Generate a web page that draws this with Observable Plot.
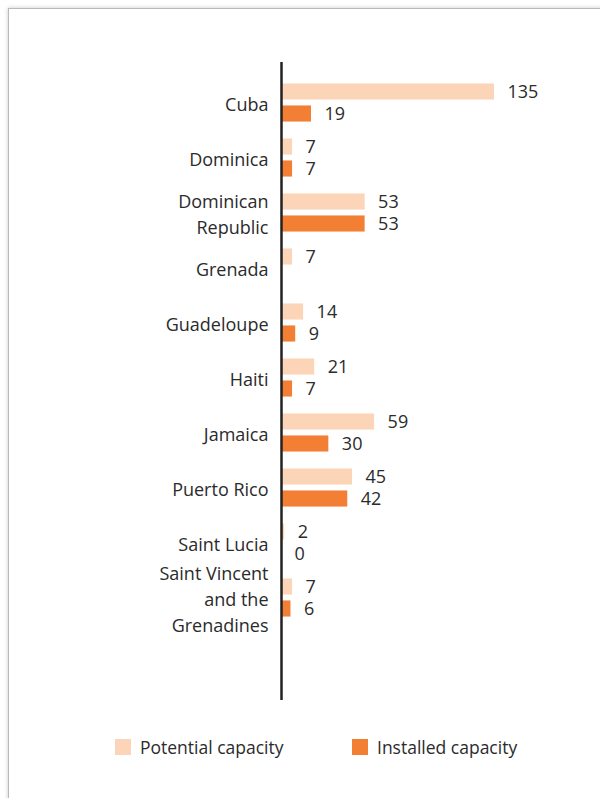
<!DOCTYPE html>
<html>
<head>
<meta charset="utf-8">
<script src="https://cdn.jsdelivr.net/npm/d3@7"></script>
<script src="https://cdn.jsdelivr.net/npm/@observablehq/plot@0.6"></script>
<style>
  html, body { margin: 0; padding: 0; background: #fff; }
  body { width: 600px; height: 798px; overflow: hidden; position: relative; font-family: "Open Sans", sans-serif; }
  #frame { position: absolute; left: 8px; top: 8px; width: 594px; height: 820px; border: 1px solid #b9b9b9; box-shadow: 0 0 4px rgba(0,0,0,0.22); background: #fff; }
  #chart { position: absolute; left: 0; top: 0; }
  #legend { position: absolute; top: 726px; left: 0; width: 593px; height: 22px; font-size: 17.5px; color: #2b2b2b; }
  .item { position: absolute; top: 0; display: flex; align-items: center; }
  .sw { width: 16px; height: 16px; display: inline-block; margin-right: 9px; }
</style>
</head>
<body>
<div id="frame">
  <div id="chart"></div>
  <div id="legend"></div>
</div>
<script>
const countries = ["Cuba", "Dominica", "Dominican\nRepublic", "Grenada", "Guadeloupe", "Haiti", "Jamaica", "Puerto Rico", "Saint Lucia", "Saint Vincent\nand the\nGrenadines"];
const potential = [135, 7, 53, 7, 14, 21, 59, 45, 2, 7];
const installed = [19, 7, 53, null, 9, 7, 30, 42, 0, 6];
const seriesNames = ["Potential capacity", "Installed capacity"];
const colors = ["#fcd4b7", "#f37f35"];

const potData = countries.map((c, i) => ({country: c, value: potential[i]}));
const instData = countries.map((c, i) => ({country: c, value: installed[i]})).filter(d => d.value != null);

const height = 700, marginTop = 53, marginBottom = 9;
const insetTop = 8, insetBottom = 71;
const step = (height - marginTop - marginBottom - insetTop - insetBottom) / countries.length;
const half = step / 2;
const barH = 17, gap = 5;

const chart = Plot.plot({
  width: 592,
  height,
  marginTop,
  marginBottom,
  marginLeft: 272,
  marginRight: 107,
  style: {fontFamily: "Open Sans, sans-serif", color: "#2b2b2b", background: "transparent"},
  x: {domain: [0, 135], axis: null},
  y: {domain: countries, padding: 0, insetTop, insetBottom, axis: null},
  marks: [
    Plot.barX(potData, {x: "value", y: "country", fill: colors[0],
      insetTop: half - gap / 2 - barH, insetBottom: half + gap / 2}),
    Plot.barX(instData, {x: "value", y: "country", fill: colors[1],
      insetTop: half + gap / 2, insetBottom: half - gap / 2 - barH}),
    Plot.text(potData, {x: "value", y: "country", text: d => String(d.value), dy: -(gap / 2 + barH / 2),
      dx: 13, textAnchor: "start", fontSize: 18, fill: "#2b2b2b"}),
    Plot.text(instData, {x: "value", y: "country", text: d => String(d.value), dy: (gap / 2 + barH / 2),
      dx: 13, textAnchor: "start", fontSize: 18, fill: "#2b2b2b"}),
    Plot.text(countries, {y: d => d, text: d => d, frameAnchor: "left", textAnchor: "end", dx: -13,
      fontSize: 18, lineHeight: 1.45, fill: "#2b2b2b"}),
    Plot.ruleX([0], {stroke: "#222", strokeWidth: 2.5})
  ]
});
document.getElementById("chart").appendChild(chart);

const legend = document.getElementById("legend");
const lx = [106, 343];
seriesNames.forEach((name, i) => {
  const it = document.createElement("div");
  it.className = "item";
  it.style.left = lx[i] + "px";
  const sw = document.createElement("span");
  sw.className = "sw";
  sw.style.background = colors[i];
  const t = document.createElement("span");
  t.textContent = name;
  it.appendChild(sw);
  it.appendChild(t);
  legend.appendChild(it);
});
</script>
</body>
</html>
